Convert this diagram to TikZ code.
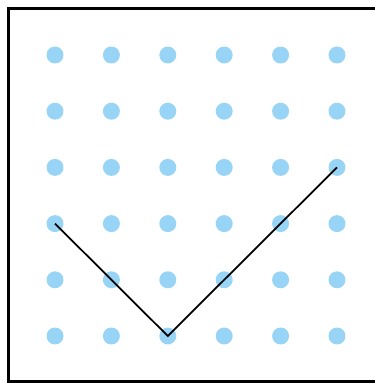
\documentclass[tikz,border=0pt]{standalone}
\usepackage{tikz}

\definecolor{dotblue}{RGB}{152,212,245}

\begin{document}
\begin{tikzpicture}[
    x=0.02cm, y=0.02cm,
    %% ── styles ───────────────────────────────────────────────
    gridpt/.style = {circle, fill=dotblue, inner sep=0pt, minimum size=0.34cm},
    frame/.style  = {draw=black, line width=1.3pt},
    path/.style   = {draw=black, line width=1.0pt}
]
\useasboundingbox (0,0) rectangle (375,383);

%% ── frame ────────────────────────────────────────────────────
\draw[frame] (8.5,1.5) rectangle (376,374.5);

%% ── dot grid ─────────────────────────────────────────────────
\foreach \c in {1,...,6} {
  \foreach \r in {1,...,6} {
    \node[gridpt] (d\c\r) at ({55+(\c-1)*56.4}, {383-55-(\r-1)*56.2}) {};
  }
}

%% ── polyline ─────────────────────────────────────────────────
\draw[path] (d14.center) -- (d36.center) -- (d63.center);

\end{tikzpicture}
\end{document}
